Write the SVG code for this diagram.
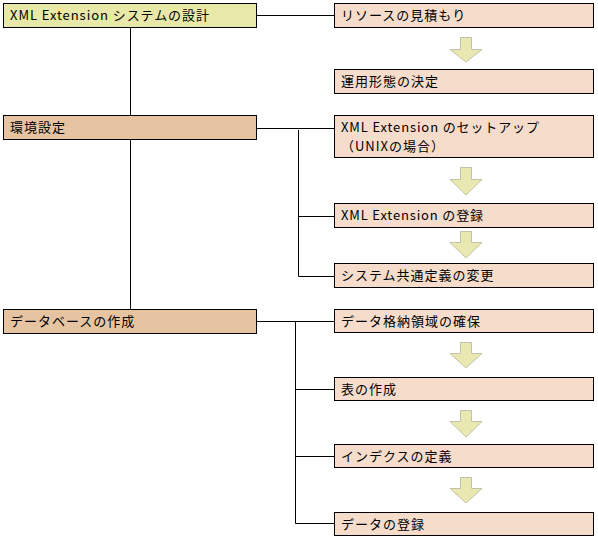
<svg xmlns="http://www.w3.org/2000/svg" width="598" height="539" viewBox="0 0 598 539">
<style>
.b{stroke:#000;stroke-width:1}
.top{fill:#e8e8a8}
.sec{fill:#e6c4a2}
.step{fill:#f5dccb}
.arr{fill:#e8e8b0;stroke:#c2c2a8;stroke-width:1}
text{font-family:"Noto Sans CJK JP","Noto Sans",sans-serif;font-size:13px;letter-spacing:1px;fill:#000}
.c{stroke:#000;stroke-width:1;fill:none}
</style>
<rect width="598" height="539" fill="#fff"/>
<g id="connectors">
<path class="c" d="M130.5 27.5V309.5"/>
<path class="c" d="M257 15.5H334"/>
<path class="c" d="M257 128.5H334M298.5 130V276.5M298.5 216.5H334M298.5 276.5H334"/>
<path class="c" d="M257 321.5H334M295.5 321.5V523.5M295.5 389.5H334M295.5 456.5H334M295.5 523.5H334"/>
</g>
<g id="node-design"><rect class="b top" x="3.5" y="3.5" width="253" height="24"/><text x="10" y="20" textLength="200" lengthAdjust="spacing">XML Extension システムの設計</text></g>
<g id="node-env"><rect class="b sec" x="3.5" y="115.5" width="253" height="24"/><text x="10" y="132">環境設定</text></g>
<g id="node-db"><rect class="b sec" x="3.5" y="309.5" width="253" height="24"/><text x="10" y="326">データベースの作成</text></g>
<g id="node-resource"><rect class="b step" x="334.5" y="3.5" width="259" height="24"/><text x="341" y="20">リソースの見積もり</text></g>
<g id="node-mode"><rect class="b step" x="334.5" y="69.5" width="259" height="24"/><text x="341" y="86">運用形態の決定</text></g>
<g id="node-setup"><rect class="b step" x="334.5" y="115.5" width="259" height="42"/><text x="341" y="132" textLength="199" lengthAdjust="spacing">XML Extension のセットアップ</text><text x="341" y="151">（UNIXの場合）</text></g>
<g id="node-register"><rect class="b step" x="334.5" y="203.5" width="259" height="24"/><text x="341" y="220" textLength="143" lengthAdjust="spacing">XML Extension の登録</text></g>
<g id="node-sysdef"><rect class="b step" x="334.5" y="263.5" width="259" height="24"/><text x="341" y="280">システム共通定義の変更</text></g>
<g id="node-area"><rect class="b step" x="334.5" y="309.5" width="259" height="23"/><text x="341" y="326">データ格納領域の確保</text></g>
<g id="node-table"><rect class="b step" x="334.5" y="377.5" width="259" height="23"/><text x="341" y="394">表の作成</text></g>
<g id="node-index"><rect class="b step" x="334.5" y="444.5" width="259" height="23"/><text x="341" y="461">インデクスの定義</text></g>
<g id="node-data"><rect class="b step" x="334.5" y="512.5" width="259" height="23"/><text x="341" y="529">データの登録</text></g>
<g id="arrows">
<path class="arr" d="M460.5 37.5H471.5V49.5H482L466 62L450 49.5H460.5Z"/>
<path class="arr" d="M460.5 167.5H471.5V179.5H482L466 195L450 179.5H460.5Z"/>
<path class="arr" d="M460.5 231.5H471.5V242.5H482L466 258L450 242.5H460.5Z"/>
<path class="arr" d="M460.5 342.5H471.5V353.5H482L466 368L450 353.5H460.5Z"/>
<path class="arr" d="M460.5 410.5H471.5V421.5H482L466 437L450 421.5H460.5Z"/>
<path class="arr" d="M460.5 477.5H471.5V488.5H482L466 503L450 488.5H460.5Z"/>
</g>
</svg>
